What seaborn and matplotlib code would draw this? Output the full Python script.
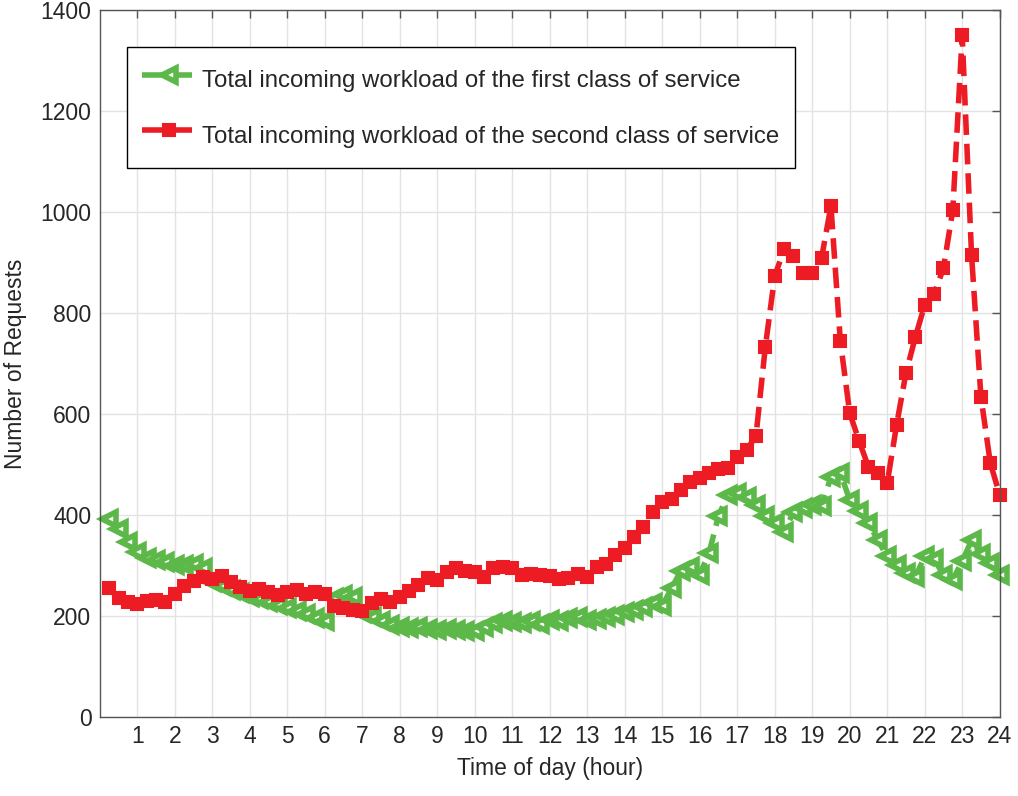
import numpy as np
import pandas as pd
import matplotlib
matplotlib.use("Agg")
import matplotlib.pyplot as plt
import seaborn as sns

# time of day, one sample every 15 minutes
hours = np.arange(0.25, 24.01, 0.25)

# first class of service (green)
first_class = [
    392, 372, 346, 327,
    315, 310, 306, 301,
    300, 303, 295, 268,
    260, 252, 245, 238,
    234, 228, 222, 216,
    210, 203, 196, 190,
    236, 242, 238, 205,
    198, 190, 182, 178,
    176, 178, 175, 173,
    174, 172, 170, 170,
    178, 186, 190, 188,
    186, 190, 184, 192,
    190, 196, 198, 192,
    194, 198, 202, 208,
    212, 218, 226, 220,
    255, 290, 297, 282,
    325, 398, 440, 443,
    436, 420, 398, 384,
    366, 406, 414, 420,
    418, 475, 483, 430,
    408, 384, 350, 318,
    300, 285, 277, 318,
    312, 282, 272, 308,
    350, 322, 305, 282,
]

# second class of service (red)
second_class = [
    255, 235, 228, 224,
    230, 232, 228, 243,
    260, 270, 277, 273,
    279, 267, 257, 250,
    253, 247, 242, 248,
    251, 244, 247, 243,
    220, 216, 212, 210,
    226, 234, 228, 238,
    250, 261, 275, 271,
    287, 295, 289, 287,
    277, 295, 297, 295,
    281, 284, 281, 279,
    273, 275, 283, 277,
    297, 303, 321, 335,
    356, 376, 406, 426,
    432, 450, 465, 473,
    483, 491, 493, 515,
    529, 556, 733, 873,
    926, 913, 879, 879,
    909, 1012, 745, 602,
    547, 495, 483, 463,
    578, 681, 752, 816,
    837, 889, 1004, 1350,
    915, 634, 503, 440,
]

labels = ["Total incoming workload of the first class of service",
          "Total incoming workload of the second class of service"]

green = "#5cb848"
red = "#ed1c24"

sns.set_style("whitegrid")
plt.rcParams['font.family'] = ['Liberation Sans', 'DejaVu Sans']

fig = plt.figure(figsize=(10.18, 7.96), dpi=100)
ax = fig.add_axes([0.098, 0.0993, 0.884, 0.888])

df = pd.DataFrame({"hour": hours, "first": first_class, "second": second_class})

sns.lineplot(data=df, x="hour", y="first", ax=ax, color=green, lw=4,
             linestyle="--", marker="<", markersize=10.5, markerfacecolor="white",
             markeredgecolor=green, markeredgewidth=4, label=labels[0],
             clip_on=False)
sns.lineplot(data=df, x="hour", y="second", ax=ax, color=red, lw=4,
             linestyle="--", marker="s", markersize=8, markerfacecolor=red,
             markeredgecolor=red, markeredgewidth=1.5, label=labels[1],
             clip_on=False)

ax.set_xlim(0, 24)
ax.set_ylim(0, 1400)
ax.set_xticks(range(1, 25))
ax.set_yticks(range(0, 1401, 200))
ax.grid(True, color="#e3e3e3", lw=1)
ax.tick_params(direction="in", top=True, right=True, length=6, width=1,
               labelsize=16.5, colors="#555555", labelcolor="#262626", pad=6)
for s in ax.spines.values():
    s.set_color("#555555")
    s.set_linewidth(1)

ax.set_xlabel("Time of day (hour)", fontsize=16.5, color="#262626", labelpad=6)
ax.set_ylabel("Number of Requests", fontsize=16.5, color="#262626", labelpad=10)

leg = ax.legend(loc="upper left", bbox_to_anchor=(0.03, 0.948), borderaxespad=0,
                fontsize=17.3, handlelength=2.2, handleheight=1.8,
                handletextpad=0.3, labelspacing=0.9, borderpad=0.65,
                fancybox=False, framealpha=1)
leg.get_frame().set_edgecolor("black")
leg.get_frame().set_linewidth(1)
for t in leg.get_texts():
    t.set_color("#262626")

plt.savefig("out.png", dpi=100)
